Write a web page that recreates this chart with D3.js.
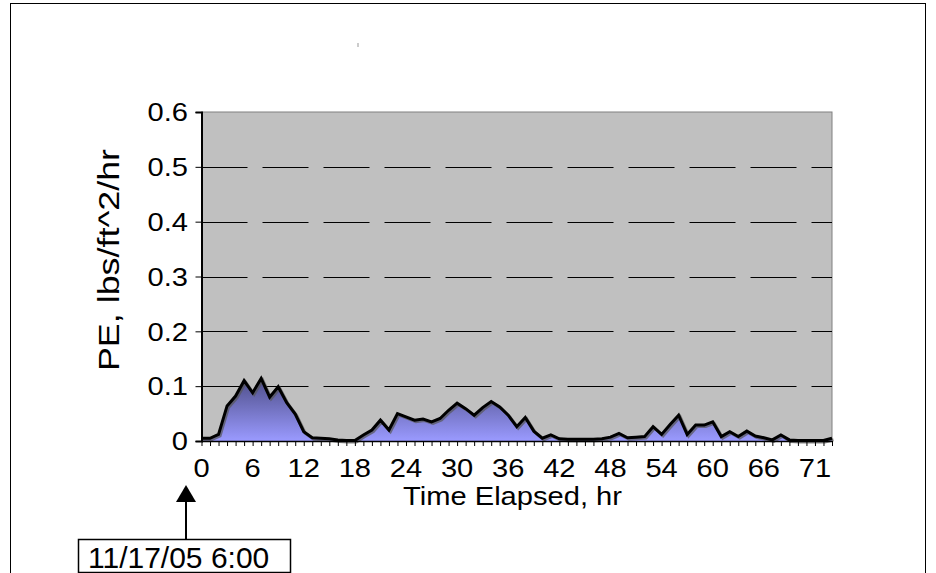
<!DOCTYPE html>
<html><head><meta charset="utf-8">
<script src="https://cdn.jsdelivr.net/npm/d3@7"></script>
<style>body{margin:0;background:#fff}svg{display:block}text{font-family:Arial,"Liberation Sans",sans-serif;fill:#000}</style>
</head><body>
<script>
// ---- data ----
const hours = d3.range(75); // category index of each reading
const peValues = [0.005,0.005,0.012,0.064,0.082,0.110,0.088,0.114,0.080,0.099,
  0.070,0.049,0.017,0.006,0.005,0.004,0.002,0.001,0.001,0.011,
  0.020,0.038,0.020,0.050,0.044,0.038,0.040,0.035,0.041,0.056,
  0.069,0.059,0.047,0.061,0.072,0.062,0.047,0.026,0.043,0.018,
  0.005,0.011,0.004,0.003,0.003,0.003,0.003,0.004,0.007,0.014,
  0.006,0.007,0.008,0.026,0.012,0.030,0.047,0.012,0.029,0.029,
  0.035,0.008,0.017,0.008,0.018,0.009,0.006,0.002,0.011,0.002,
  0.001,0.001,0.001,0.001,0.005];
const xTickIndex = [0,6,12,18,24,30,36,42,48,54,60,66,72];
const xTickLabels = ["0","6","12","18","24","30","36","42","48","54","60","66","71"];
const yTicks = [0,0.1,0.2,0.3,0.4,0.5,0.6];
const xTitle = "Time Elapsed, hr";
const yTitle = "PE, lbs/ft^2/hr";
const note = "11/17/05 6:00";

const W = 936, H = 573;
const m = {l:201.5, r:832, t:112, b:441};
const FS = 26, SX = 1.12;
const svg = d3.select("body").append("svg").attr("width",W).attr("height",H);

const x = d3.scaleLinear().domain([0, hours.length-1]).range([m.l, m.r]);
const y = d3.scaleLinear().domain([0, 0.6]).range([m.b, m.t]);

// outer chart border
svg.append("rect").attr("x",10.5).attr("y",3.5).attr("width",915).attr("height",620)
  .attr("fill","none").attr("stroke","#000").attr("stroke-width",1);

// tiny empty title artifact
svg.append("line").attr("x1",358).attr("x2",358).attr("y1",43).attr("y2",47).attr("stroke","#999");

// plot area
svg.append("rect").attr("x",m.l).attr("y",m.t).attr("width",m.r-m.l).attr("height",m.b-m.t)
  .attr("fill","#c0c0c0").attr("stroke","#808080").attr("stroke-width",1);

// gridlines
svg.append("g").selectAll("line").data(yTicks.filter(d=>d>0 && d<0.6)).join("line")
  .attr("x1",m.l).attr("x2",m.r).attr("y1",d=>Math.round(y(d))+0.5).attr("y2",d=>Math.round(y(d))+0.5)
  .attr("stroke","#000").attr("stroke-width",1.2).attr("stroke-dasharray","46,15");

const defs = svg.append("defs");
const grad = defs.append("linearGradient").attr("id","g").attr("x1",0).attr("y1",0).attr("x2",0).attr("y2",1);
grad.append("stop").attr("offset","0%").attr("stop-color","#4e4e88");
grad.append("stop").attr("offset","100%").attr("stop-color","#9a9aff");

const area = d3.area().x((d,i)=>x(hours[i])).y0(y(0)).y1(d=>y(d));
const line = d3.line().x((d,i)=>x(hours[i])).y(d=>y(d));

svg.append("path").datum(peValues).attr("d",area).attr("fill","url(#g)");
svg.append("path").datum(peValues).attr("d",line).attr("fill","none")
  .attr("stroke","#555").attr("stroke-width",3).attr("transform","translate(1.5,1.5)").attr("opacity",0.7);
svg.append("path").datum(peValues).attr("d",line).attr("fill","none")
  .attr("stroke","#000").attr("stroke-width",3).attr("stroke-linejoin","miter");

// y axis
const yAxis = svg.append("g").attr("transform",`translate(${m.l},0)`)
  .call(d3.axisLeft(y).tickValues(yTicks).tickFormat("").tickSize(6));
yAxis.select(".domain").attr("stroke","#000").attr("stroke-width",2);
svg.append("g").selectAll("text").data(yTicks).join("text")
  .attr("transform",d=>`translate(188,${y(d)+FS*0.358}) scale(${SX},1)`)
  .attr("text-anchor","end").attr("font-size",FS).text(d=>d3.format("")(d));

// x axis
const xAxis = svg.append("g").attr("transform",`translate(0,${m.b})`)
  .call(d3.axisBottom(x).tickValues(hours).tickFormat("").tickSize(5).tickSizeOuter(0));
xAxis.select(".domain").attr("stroke","#000").attr("stroke-width",1.5);
svg.append("g").selectAll("text").data(xTickIndex).join("text")
  .attr("transform",d=>`translate(${x(d)},477) scale(${SX},1)`)
  .attr("text-anchor","middle").attr("font-size",FS)
  .text((d,i)=>xTickLabels[i]);

// titles
svg.append("text").attr("transform",`translate(512.5,505) scale(${SX},1)`).attr("text-anchor","middle")
  .attr("font-size",FS).text(xTitle);
svg.append("text").attr("transform",`translate(119,260) rotate(-90) scale(1.38,${SX})`)
  .attr("text-anchor","middle").attr("font-size",FS).text(yTitle);

// annotation
svg.append("line").attr("x1",186).attr("x2",186).attr("y1",500).attr("y2",539).attr("stroke","#000").attr("stroke-width",2);
svg.append("path").attr("d","M186,485 L176,502 L196,502 Z").attr("fill","#000");
svg.append("rect").attr("x",78.5).attr("y",539.5).attr("width",212).attr("height",33)
  .attr("fill","#fff").attr("stroke","#000").attr("stroke-width",1.5);
svg.append("text").attr("x",88).attr("y",568).attr("font-size",30).text(note);
</script>
</body></html>
